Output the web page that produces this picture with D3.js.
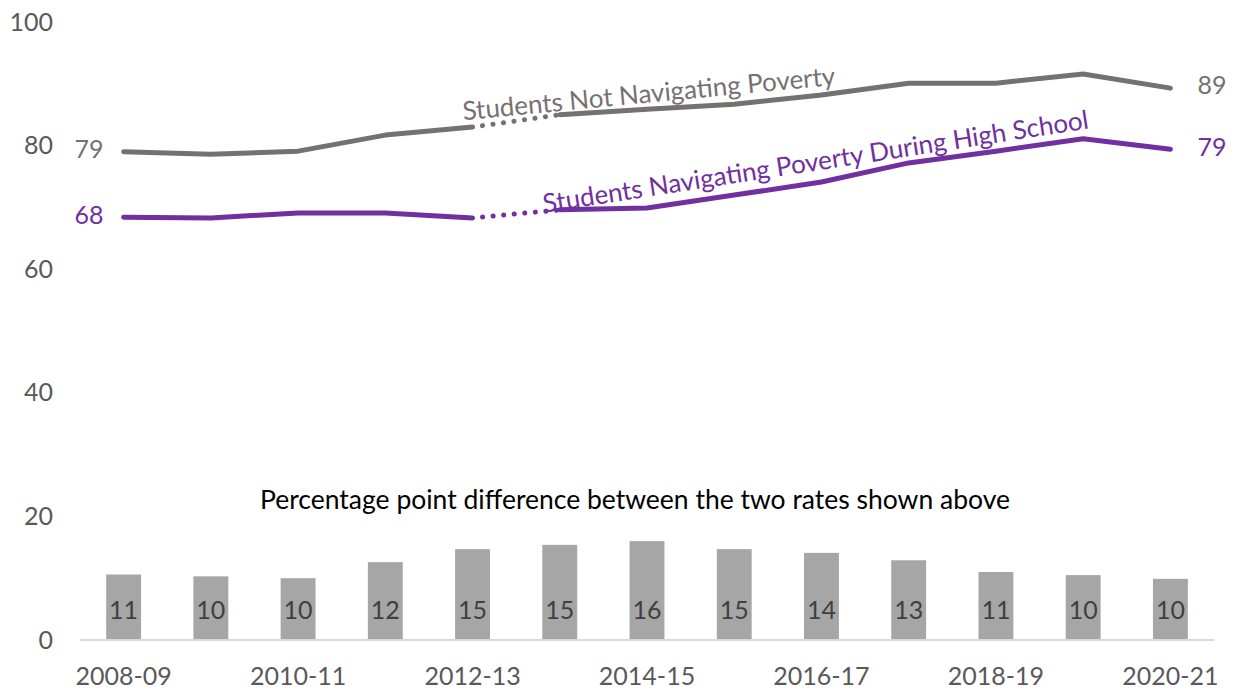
<!DOCTYPE html>
<html>
<head>
<meta charset="utf-8">
<script src="https://cdn.jsdelivr.net/npm/d3@7"></script>
<style>
  body { margin: 0; background: #fff; }
  svg { font-family: Lato, 'Open Sans', sans-serif; }
</style>
</head>
<body>
<div id="chart"></div>
<script>
// data
const years = ["2008-09", "2009-10", "2010-11", "2011-12", "2012-13", "2013-14", "2014-15",
  "2015-16", "2016-17", "2017-18", "2018-19", "2019-20", "2020-21"];
const notPoverty = [79.0, 78.6, 79.1, 81.7, 83.0, 85.0, 85.9, 86.7, 88.2, 90.1, 90.1, 91.6, 89.3];
const poverty = [68.4, 68.3, 69.1, 69.1, 68.3, 69.6, 69.9, 72.0, 74.1, 77.2, 79.1, 81.1, 79.4];
const gap = [10.6, 10.3, 10.0, 12.6, 14.7, 15.4, 16.0, 14.7, 14.1, 12.9, 11.0, 10.5, 9.9];
const gapLabels = [11, 10, 10, 12, 15, 15, 16, 15, 14, 13, 11, 10, 10];
const yTicks = [0, 20, 40, 60, 80, 100];
const xTickLabels = ["2008-09", "2010-11", "2012-13", "2014-15", "2016-17", "2018-19", "2020-21"];

const width = 1234, height = 690;
const grayLine = "#767171", purple = "#7030A0", tickColor = "#595959";
const fs = "25px";

const svg = d3.select("#chart").append("svg")
  .attr("width", width)
  .attr("height", height);

const x = d3.scaleBand().domain(years).range([80, 1214]).paddingInner(0.6).paddingOuter(0.3);
const y = d3.scaleLinear().domain([0, 100]).range([640, 22]);
const cx = function (d) { return x(d) + x.bandwidth() / 2; };

// y axis labels (no line)
svg.append("g")
  .attr("transform", "translate(53,0)")
  .call(d3.axisLeft(y).tickValues(yTicks).tickSize(0).tickPadding(0))
  .call(g => g.select(".domain").remove())
  .selectAll("text")
  .style("font-size", fs)
  .style("font-family", "Lato, 'Open Sans', sans-serif")
  .attr("fill", tickColor);

// bars
svg.selectAll(".bar")
  .data(years)
  .enter().append("rect")
  .attr("class", "bar")
  .attr("x", d => x(d))
  .attr("width", x.bandwidth())
  .attr("y", (d, i) => y(gap[i]))
  .attr("height", (d, i) => y(0) - y(gap[i]))
  .attr("fill", "#A6A6A6");

svg.selectAll(".barLabel")
  .data(years)
  .enter().append("text")
  .attr("class", "barLabel")
  .attr("x", d => cx(d))
  .attr("y", y(0) - 27)
  .attr("text-anchor", "middle")
  .attr("dominant-baseline", "middle")
  .style("font-size", fs)
  .attr("fill", "#404040")
  .text((d, i) => gapLabels[i]);

// x axis
const xAxis = svg.append("g")
  .attr("transform", "translate(0," + y(0) + ")")
  .call(d3.axisBottom(x).tickValues(xTickLabels).tickSize(0).tickPadding(27));
xAxis.select(".domain").attr("stroke", "#D9D9D9").attr("stroke-width", 2)
  .attr("d", "M80,0H1214");
xAxis.selectAll("text")
  .style("font-size", fs)
  .style("font-family", "Lato, 'Open Sans', sans-serif")
  .attr("fill", tickColor);

svg.append("text")
  .attr("x", 635)
  .attr("y", 502)
  .attr("text-anchor", "middle")
  .attr("dominant-baseline", "middle")
  .style("font-size", "26.5px")
  .attr("fill", "#000")
  .text("Percentage point difference between the two rates shown above");

// lines: solid before and after the break, dotted across it
const line = d3.line().x(d => cx(d.year)).y(d => y(d.v));
function drawSeries(vals, color) {
  const pts = years.map((yr, i) => ({ year: yr, v: vals[i] }));
  [pts.slice(0, 5), pts.slice(5)].forEach(seg => {
    svg.append("path")
      .datum(seg)
      .attr("d", line)
      .attr("fill", "none")
      .attr("stroke", color)
      .attr("stroke-width", 5)
      .attr("stroke-linejoin", "round")
      .attr("stroke-linecap", "round");
  });
  svg.append("path")
    .datum(pts.slice(4, 6))
    .attr("d", line)
    .attr("fill", "none")
    .attr("stroke", color)
    .attr("stroke-width", 5)
    .attr("stroke-linecap", "round")
    .attr("stroke-dasharray", "0.1 10.5")
    .attr("stroke-dashoffset", -10);
}
drawSeries(notPoverty, grayLine);
drawSeries(poverty, purple);

// end labels
function endLabels(vals, color) {
  svg.append("text")
    .attr("x", cx(years[0]) - 20)
    .attr("y", y(vals[0]))
    .attr("text-anchor", "end")
    .attr("dominant-baseline", "middle")
    .style("font-size", fs)
    .attr("fill", color)
    .text(Math.round(vals[0]));
  svg.append("text")
    .attr("x", cx(years[years.length - 1]) + 27)
    .attr("y", y(vals[vals.length - 1]))
    .attr("text-anchor", "start")
    .attr("dominant-baseline", "middle")
    .style("font-size", fs)
    .attr("fill", color)
    .text(Math.round(vals[vals.length - 1]));
}
endLabels(notPoverty, grayLine);
endLabels(poverty, purple);

// series labels along the lines
svg.append("text")
  .attr("transform", "translate(649,96) rotate(-5.4)")
  .attr("text-anchor", "middle")
  .attr("dominant-baseline", "middle")
  .style("font-size", "26px")
  .attr("fill", grayLine)
  .text("Students Not Navigating Poverty");

svg.append("text")
  .attr("transform", "translate(816,164) rotate(-8.8)")
  .attr("text-anchor", "middle")
  .attr("dominant-baseline", "middle")
  .style("font-size", "26px")
  .attr("fill", purple)
  .text("Students Navigating Poverty During High School");
</script>
</body>
</html>
